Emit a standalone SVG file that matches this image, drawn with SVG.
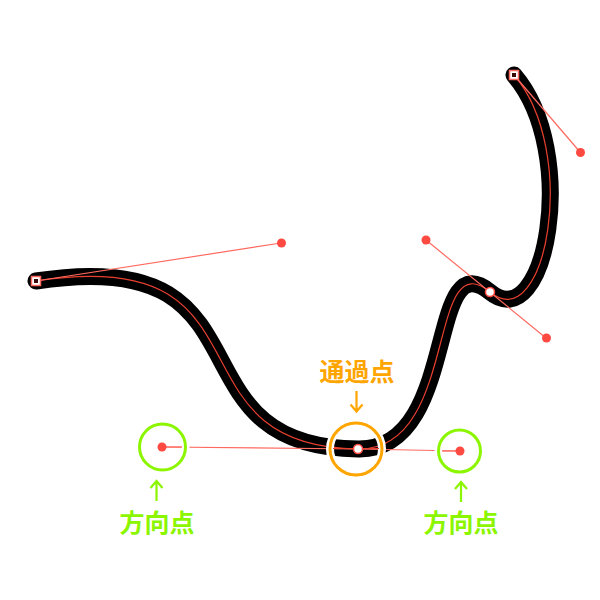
<svg xmlns="http://www.w3.org/2000/svg" width="600" height="600" viewBox="0 0 600 600">
<style>
.curve{fill:none;stroke:#000;stroke-width:17;stroke-linecap:round;stroke-linejoin:round}
.path{fill:none;stroke:#e8402f;stroke-width:1.200}
.handle{fill:none;stroke:#ff6a60;stroke-width:1.200}
.dot{fill:#ff4a42}
.halo{fill:none;stroke:#fff;stroke-width:8}
.ringO{fill:none;stroke:#ffa500;stroke-width:3}
.ringG{fill:none;stroke:#8cf500;stroke-width:3}
.arrO{fill:none;stroke:#ffa500;stroke-width:2.200}
.arrG{fill:none;stroke:#8cf500;stroke-width:2.200}
.t{font-family:"Noto Sans CJK JP","Noto Sans CJK SC",sans-serif;font-size:25px;font-weight:700;text-anchor:middle}
.anchor{fill:#fff;stroke:#ff4a42;stroke-width:1.500}
.sq{fill:#3a0a08;stroke:#fff;stroke-width:2}
.sqo{fill:none;stroke:#ff6a60;stroke-width:1.500}
</style>
<g id="connectors">
<path class="curve" d="M36 281C281 243 162 447 358 449C460 451 426 240 490 292C546 338 580 152 514 75"/>
<path class="path" d="M36 281C281 243 162 447 358 449C460 451 426 240 490 292C546 338 580 152 514 75"/>
<path class="handle" d="M36 281L281 243M162 447L358 449L460 451M426 240L546 338M514 75L580 152"/>
</g>
<g id="handle-points">
<circle class="dot" cx="281.500" cy="243" r="4.500"/>
<circle class="dot" cx="426" cy="240" r="4.500"/>
<circle class="dot" cx="546.500" cy="338" r="4.500"/>
<circle class="dot" cx="580.500" cy="152.500" r="4.500"/>
</g>
<g id="anchor-start"><rect class="sq" x="33" y="278" width="6" height="6"/><rect class="sqo" x="31.500" y="276.500" width="9" height="9"/></g>
<g id="anchor-end"><rect class="sq" x="511" y="72" width="6" height="6"/><rect class="sqo" x="509.500" y="70.500" width="9" height="9"/></g>
<g id="anchor-mid"><circle class="anchor" cx="490" cy="292" r="4.500"/></g>
<g id="ring-through">
<circle class="halo" cx="356" cy="449" r="26"/>
<path d="M333 448.500H379" stroke="#e8402f" stroke-width="1.200"/>
<circle class="ringO" cx="356" cy="449" r="26"/>
<circle class="anchor" cx="358" cy="449" r="4.500"/>
<path class="arrO" d="M356.500 391V411M350.500 404.500L356.500 411.500L362.500 404.500"/>
<text class="t" x="357" y="381" fill="#ffa500">通過点</text>
</g>
<g id="ring-left">
<circle class="halo" cx="162.500" cy="447" r="23"/>
<circle class="ringG" cx="162.500" cy="447" r="23"/>
<path d="M162 447H182" stroke="#ff6a60" stroke-width="1.200"/>
<circle class="dot" cx="162" cy="447" r="4.500"/>
<path class="arrG" d="M156.500 501V481M150.500 488L156.500 481L162.500 488"/>
<text class="t" x="157" y="532" fill="#8cf500">方向点</text>
</g>
<g id="ring-right">
<circle class="halo" cx="459.500" cy="451" r="21"/>
<circle class="ringG" cx="459.500" cy="451" r="21"/>
<path d="M442 451H460" stroke="#ff6a60" stroke-width="1.200"/>
<circle class="dot" cx="460" cy="451" r="4.500"/>
<path class="arrG" d="M461 502V482M455 489L461 482L467 489"/>
<text class="t" x="461" y="532" fill="#8cf500">方向点</text>
</g>
</svg>
